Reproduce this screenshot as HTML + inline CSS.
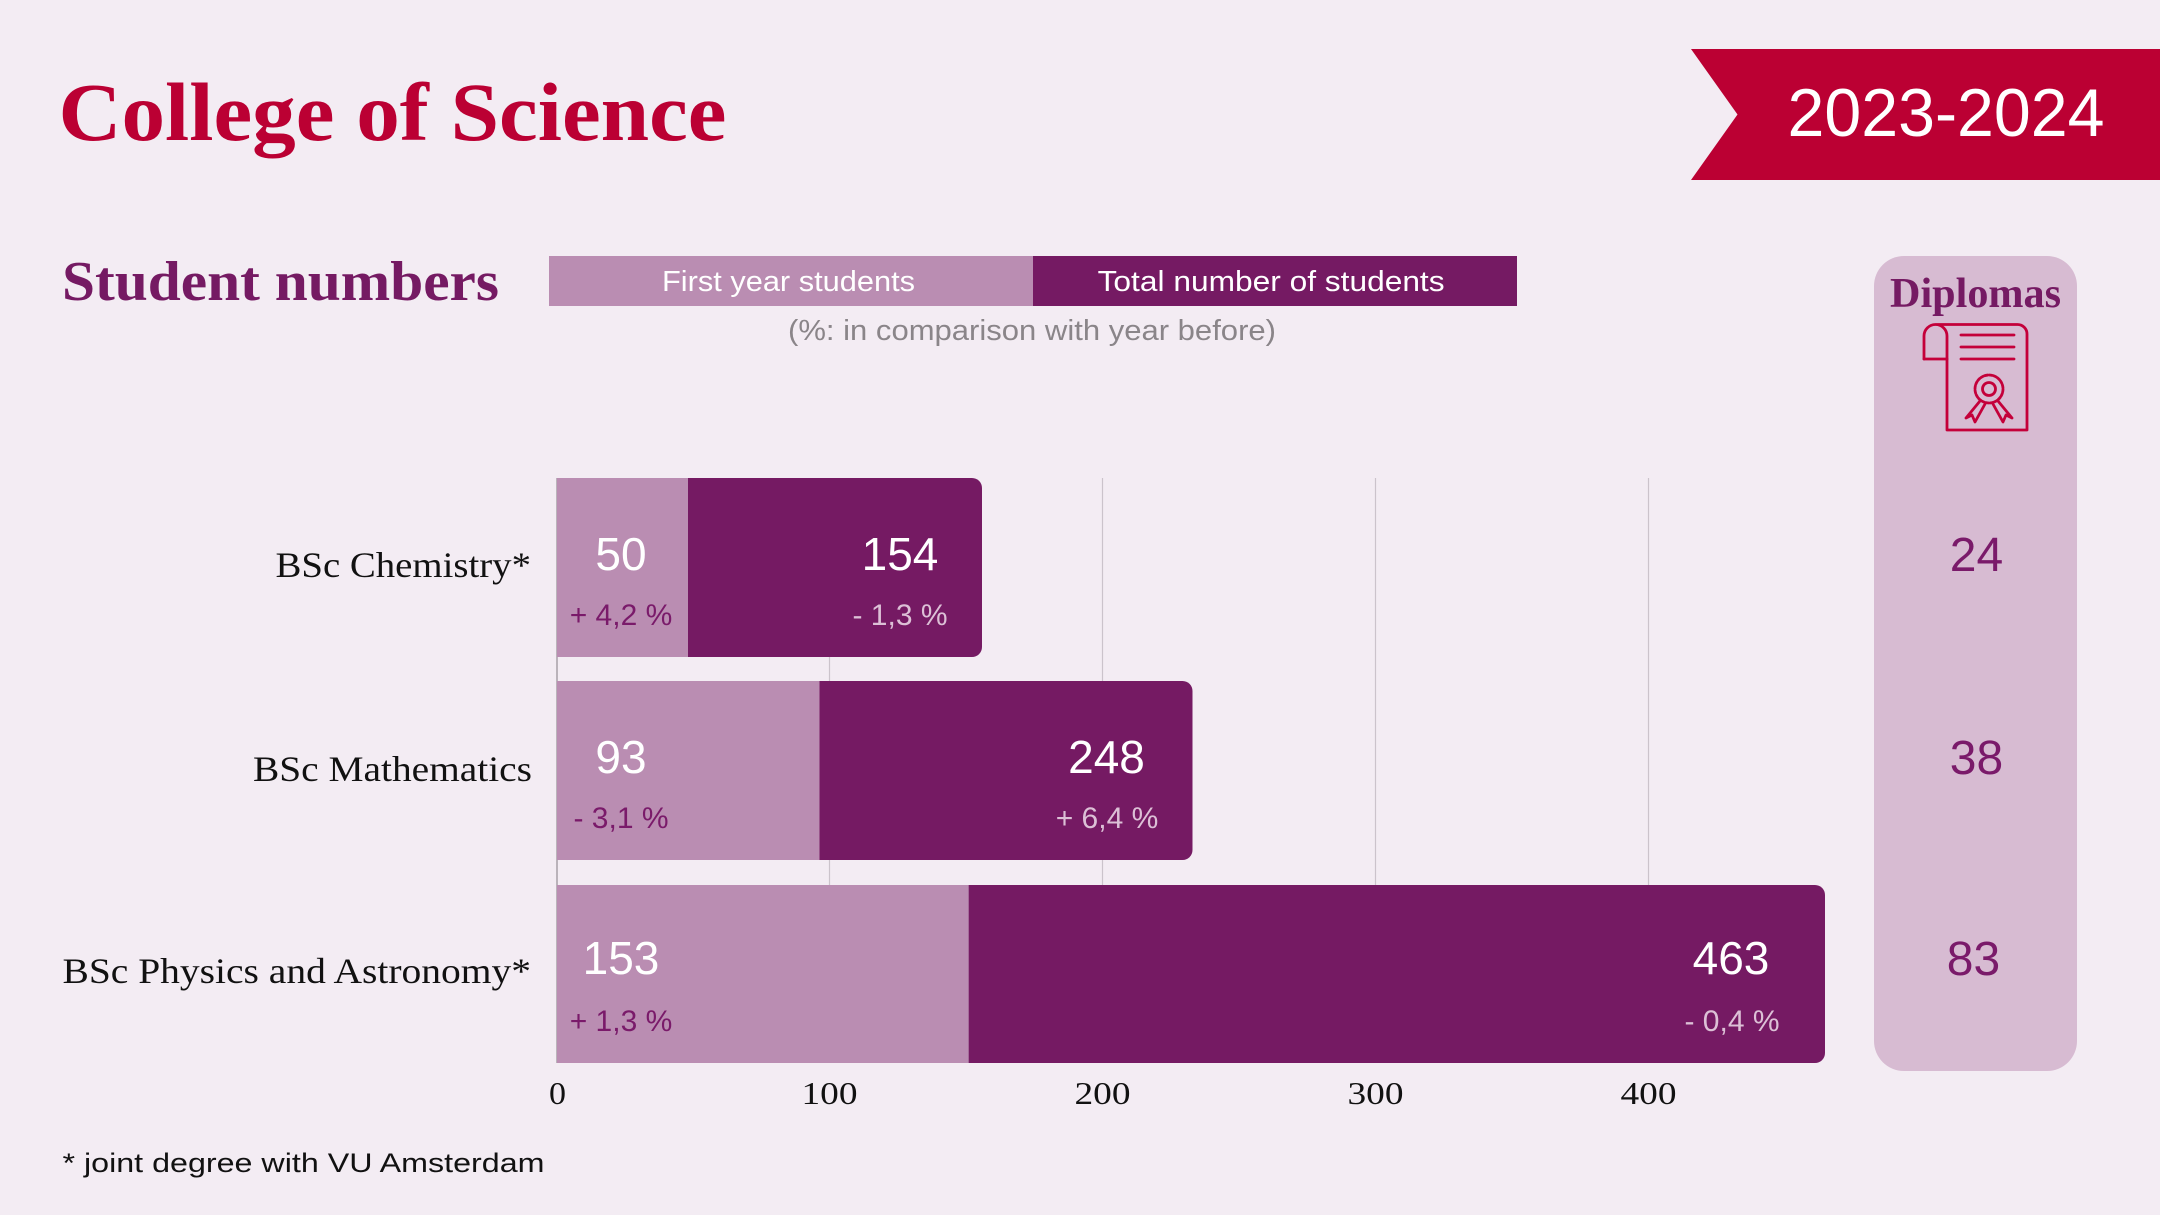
<!DOCTYPE html>
<html>
<head>
<meta charset="utf-8">
<style>
html,body{margin:0;padding:0;background:#f3ecf3;}
svg{display:block;}
.serif{font-family:"Liberation Serif",serif;}
.sans{font-family:"Liberation Sans",sans-serif;}
</style>
</head>
<body>
<svg width="2160" height="1215" viewBox="0 0 2160 1215" xmlns="http://www.w3.org/2000/svg">
  <rect x="0" y="0" width="2160" height="1215" fill="#f3ecf3"/>

  <!-- Title -->
  <text class="serif" x="58.5" y="140" font-size="83" font-weight="bold" fill="#bb0033" textLength="668" lengthAdjust="spacingAndGlyphs">College of Science</text>

  <!-- Ribbon -->
  <polygon points="1691,49 2160,49 2160,180 1691,180 1737.5,114.5" fill="#bb0033"/>
  <text class="sans" x="1787.5" y="136" font-size="68" fill="#ffffff" textLength="317" lengthAdjust="spacingAndGlyphs">2023-2024</text>

  <!-- Student numbers -->
  <text class="serif" x="62" y="300" font-size="56" font-weight="bold" fill="#751a63" textLength="437" lengthAdjust="spacingAndGlyphs">Student numbers</text>

  <!-- Legend -->
  <rect x="549" y="256" width="484" height="50" fill="#ba8db2"/>
  <rect x="1033" y="256" width="484" height="50" fill="#751a63"/>
  <text class="sans" x="662" y="291" font-size="29" fill="#ffffff" textLength="253" lengthAdjust="spacingAndGlyphs">First year students</text>
  <text class="sans" x="1097.6" y="291" font-size="29" fill="#ffffff" textLength="347" lengthAdjust="spacingAndGlyphs">Total number of students</text>
  <text class="sans" x="788" y="340" font-size="29" fill="#8a8589" textLength="488" lengthAdjust="spacingAndGlyphs">(%: in comparison with year before)</text>

  <!-- Diplomas box -->
  <path d="M1874,286 A30,30 0 0 1 1904,256 H2047 A30,30 0 0 1 2077,286 V1041 A30,30 0 0 1 2047,1071 H1904 A30,30 0 0 1 1874,1041 Z" fill="#d7bbd2"/>
  <text class="serif" x="1890" y="307" font-size="42" font-weight="bold" fill="#751a63" textLength="171" lengthAdjust="spacingAndGlyphs">Diplomas</text>

  <!-- Diploma icon -->
  <g fill="none" stroke="#c4003a" stroke-width="2.8" stroke-linejoin="round" stroke-linecap="round">
    <path d="M1924,359 V336 A11.5,11.5 0 0 1 1947,336 V430 H2027 V334 A9.5,9.5 0 0 0 2017.5,324.5 H1935.5 A11.5,11.5 0 0 0 1924,336"/>
    <path d="M1924,359 H1947"/>
    <path d="M1961,335 H2014"/>
    <path d="M1961,347 H2014"/>
    <path d="M1961,359 H2014"/>
    <circle cx="1989" cy="389" r="14" stroke-dasharray="3 1.4"/>
    <circle cx="1989" cy="389" r="6.5"/>
    <path d="M1980,401 L1966,418 L1972,415 L1975,422 L1985,404"/>
    <path d="M1998,401 L2012,418 L2006,415 L2003,422 L1993,404"/>
  </g>

  <text class="sans" x="1976.5" y="571" font-size="48" fill="#7a1a6a" text-anchor="middle">24</text>
  <text class="sans" x="1976.5" y="774" font-size="48" fill="#7a1a6a" text-anchor="middle">38</text>
  <text class="sans" x="1973.5" y="975" font-size="48" fill="#7a1a6a" text-anchor="middle">83</text>

  <!-- Gridlines -->
  <g stroke="#cbc3cb" stroke-width="1.2">
    <line x1="829.5" y1="478" x2="829.5" y2="1063"/>
    <line x1="1102.5" y1="478" x2="1102.5" y2="1063"/>
    <line x1="1375.5" y1="478" x2="1375.5" y2="1063"/>
    <line x1="1648.5" y1="478" x2="1648.5" y2="1063"/>
  </g>
  <line x1="557" y1="478" x2="557" y2="1063" stroke="#a8a0a8" stroke-width="1.5"/>

  <!-- Bar 1: Chemistry -->
  <rect x="557" y="478" width="131" height="179" fill="#ba8db2"/>
  <path d="M688,478 H972 A10,10 0 0 1 982,488 V647 A10,10 0 0 1 972,657 H688 Z" fill="#751a63"/>
  <!-- Bar 2: Mathematics -->
  <rect x="557" y="681" width="262.5" height="179" fill="#ba8db2"/>
  <path d="M819.5,681 H1182.5 A10,10 0 0 1 1192.5,691 V850 A10,10 0 0 1 1182.5,860 H819.5 Z" fill="#751a63"/>
  <!-- Bar 3: Physics -->
  <rect x="557" y="885" width="412" height="178" fill="#ba8db2"/>
  <path d="M968.7,885 H1815 A10,10 0 0 1 1825,895 V1053 A10,10 0 0 1 1815,1063 H968.7 Z" fill="#751a63"/>

  <!-- Category labels -->
  <text class="serif" x="275.5" y="577" font-size="36" fill="#111111" textLength="255.5" lengthAdjust="spacingAndGlyphs">BSc Chemistry*</text>
  <text class="serif" x="253" y="781" font-size="36" fill="#111111" textLength="279" lengthAdjust="spacingAndGlyphs">BSc Mathematics</text>
  <text class="serif" x="62.5" y="983" font-size="36" fill="#111111" textLength="468.5" lengthAdjust="spacingAndGlyphs">BSc Physics and Astronomy*</text>

  <!-- Values -->
  <g class="sans" font-size="46" fill="#ffffff" text-anchor="middle">
    <text x="621" y="570">50</text>
    <text x="900" y="570">154</text>
    <text x="621" y="773">93</text>
    <text x="1106.5" y="773">248</text>
    <text x="621" y="974">153</text>
    <text x="1731" y="974">463</text>
  </g>
  <g class="sans" font-size="30" text-anchor="middle">
    <text x="621" y="625" fill="#7a1a6a">+ 4,2 %</text>
    <text x="900" y="625" fill="#dcc0d6">- 1,3 %</text>
    <text x="621" y="828" fill="#7a1a6a">- 3,1 %</text>
    <text x="1107" y="828" fill="#dcc0d6">+ 6,4 %</text>
    <text x="621" y="1031" fill="#7a1a6a">+ 1,3 %</text>
    <text x="1732" y="1031" fill="#dcc0d6">- 0,4 %</text>
  </g>

  <!-- Axis labels -->
  <g class="serif" font-size="32" fill="#111111">
    <text x="549" y="1104" textLength="17" lengthAdjust="spacingAndGlyphs">0</text>
    <text x="801.5" y="1104" textLength="56" lengthAdjust="spacingAndGlyphs">100</text>
    <text x="1074.5" y="1104" textLength="56" lengthAdjust="spacingAndGlyphs">200</text>
    <text x="1347.5" y="1104" textLength="56" lengthAdjust="spacingAndGlyphs">300</text>
    <text x="1620.5" y="1104" textLength="56" lengthAdjust="spacingAndGlyphs">400</text>
  </g>

  <!-- Footnote -->
  <text class="sans" x="62.5" y="1172" font-size="27" fill="#111111" textLength="482" lengthAdjust="spacingAndGlyphs">* joint degree with VU Amsterdam</text>
</svg>
</body>
</html>
